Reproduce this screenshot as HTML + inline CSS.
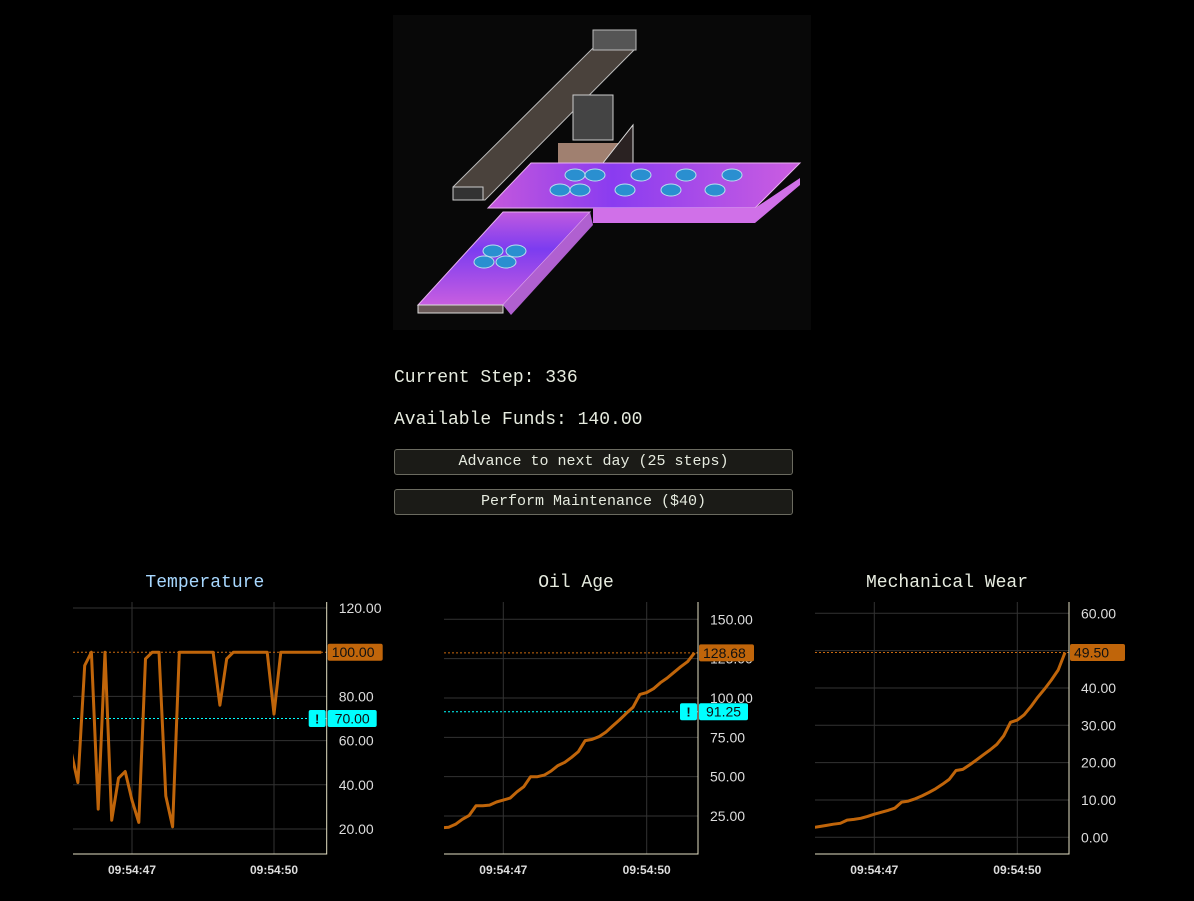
<!DOCTYPE html>
<html><head><meta charset="utf-8">
<style>
html,body{margin:0;padding:0;background:#000;width:1194px;height:901px;overflow:hidden;position:relative;font-family:"Liberation Mono",monospace;color:#e6ebdf}
.txt{position:absolute;left:394px;font-size:18px;white-space:nowrap}
.btn{position:absolute;left:394px;width:399px;height:26px;box-sizing:border-box;background:#1b1b17;border:1px solid #6b6b60;border-radius:3px;color:#e6ebdf;font-family:"Liberation Mono",monospace;font-size:15px;line-height:24px;text-align:center;padding:0}
svg{position:absolute;left:0;top:0}
</style></head><body>
<svg width="1194" height="901" viewBox="0 0 1194 901">
<defs>
<linearGradient id="belt" x1="0" y1="0" x2="1" y2="0"><stop offset="0" stop-color="#c458dc"/><stop offset="0.4" stop-color="#8a3cf0"/><stop offset="1" stop-color="#cc5ee0"/></linearGradient>
<linearGradient id="belt2" x1="0" y1="0" x2="0" y2="1"><stop offset="0" stop-color="#c05ae0"/><stop offset="0.4" stop-color="#7c3cf0"/><stop offset="1" stop-color="#c85ee0"/></linearGradient>
</defs>
<rect x="393" y="15" width="418" height="315" fill="#080808"/>
<g transform="translate(393,15)">
<polygon points="60,172 200,33 243,15 243,33 92,185 60,185" fill="#4a423c" stroke="#bbb" stroke-width="1"/>
<rect x="60" y="172" width="30" height="13" fill="#333" stroke="#ccc"/>
<rect x="200" y="15" width="43" height="20" fill="#555" stroke="#bbb"/>
<rect x="180" y="80" width="40" height="45" fill="#444" stroke="#ccc"/>
<rect x="165" y="128" width="60" height="20" fill="#a08070"/>
<polygon points="210,148 240,110 240,160 210,195" fill="#2a2222" stroke="#ddd"/>
<polygon points="138,148 407,148 362,193 95,193" fill="url(#belt)" stroke="#e8b0f0"/>
<polygon points="407,163 407,170 362,208 200,208 200,193 362,193" fill="#d070e8"/>
<polygon points="110,197 197,197 110,290 25,290" fill="url(#belt2)" stroke="#e8b0f0"/>
<polygon points="197,197 200,210 118,300 110,290" fill="#b060d0"/>
<rect x="25" y="290" width="85" height="8" fill="#6a5a58" stroke="#ddd"/>
<g fill="#2a8fd0" stroke="#bde" stroke-width="1">
<ellipse cx="182" cy="160" rx="10" ry="6"/><ellipse cx="202" cy="160" rx="10" ry="6"/><ellipse cx="167" cy="175" rx="10" ry="6"/><ellipse cx="187" cy="175" rx="10" ry="6"/>
<ellipse cx="248" cy="160" rx="10" ry="6"/><ellipse cx="293" cy="160" rx="10" ry="6"/><ellipse cx="339" cy="160" rx="10" ry="6"/>
<ellipse cx="232" cy="175" rx="10" ry="6"/><ellipse cx="278" cy="175" rx="10" ry="6"/><ellipse cx="322" cy="175" rx="10" ry="6"/>
<ellipse cx="100" cy="236" rx="10" ry="6"/><ellipse cx="123" cy="236" rx="10" ry="6"/><ellipse cx="91" cy="247" rx="10" ry="6"/><ellipse cx="113" cy="247" rx="10" ry="6"/>
</g>
</g>
</svg>
<div class="txt" style="top:368px">Current Step: 336</div>
<div class="txt" style="top:410px">Available Funds: 140.00</div>
<button class="btn" style="top:449px">Advance to next day (25 steps)</button>
<button class="btn" style="top:489px">Perform Maintenance ($40)</button>
<svg id="charts" width="1194" height="901" viewBox="0 0 1194 901"></svg>
<script>
const xTickIndex=[9,30];
const xTickLabels=["09:54:47","09:54:50"];
const tempValues=[55,41,94,100,29,100,24,43,46,33,23,97,100,100,35,21,100,100,100,100,100,100,76,97,100,100,100,100,100,100,72,100,100,100,100,100,100,100];
const tempTicks=[20,40,60,80,120];
const oilValues=[17.5,17.8,19.7,22.9,25.4,31.5,31.5,31.9,33.9,35.1,36.4,40.4,43.6,50,50,51,53.6,57,59.1,62.3,65.9,72.9,73.7,75.4,78.2,82.2,86,90.2,94.1,102.3,103.4,105.9,109.7,112.7,116.3,119.9,123.1,128.68];
const oilTicks=[25,50,75,100,125,150];
const wearValues=[2.6,2.9,3.2,3.5,3.75,4.6,4.8,5.1,5.6,6.2,6.7,7.2,7.8,9.4,9.7,10.3,11.1,12,13,14.2,15.5,17.9,18.2,19.4,20.7,22.1,23.4,24.9,27.2,30.8,31.4,32.8,35,37.5,39.7,42.1,44.8,49.5];
const wearTicks=[0,10,20,30,40,50,60];
const titles=["Temperature","Oil Age","Mechanical Wear"];
const tempThreshold=70, oilThreshold=91.25;

const NS="http://www.w3.org/2000/svg";
const svg=document.getElementById('charts');
function mk(tag,attrs,parent){const e=document.createElementNS(NS,tag);for(const k in attrs)e.setAttribute(k,attrs[k]);(parent||svg).appendChild(e);return e;}
const charts=[
 {name:'temperature',vals:tempValues,ticks:tempTicks,L:73,A:326.7,g0:132,g1:274,v0:120,y0:608,v1:20,y1:829,thr:tempThreshold,title:titles[0],tc:'#a8d8ff'},
 {name:'oil-age',vals:oilValues,ticks:oilTicks,L:444,A:698,g0:503.3,g1:646.7,v0:150,y0:619.3,v1:25,y1:816,thr:oilThreshold,title:titles[1],tc:'#e6ebdf'},
 {name:'mechanical-wear',vals:wearValues,ticks:wearTicks,L:815,A:1069,g0:874.3,g1:1017.3,v0:60,y0:613.3,v1:0,y1:837.3,thr:null,title:titles[2],tc:'#e6ebdf'}
];
const TOP=602,BOT=854;
charts.forEach((c,ci)=>{
 const xs=i=>c.g0+(i-xTickIndex[0])*(c.g1-c.g0)/(xTickIndex[1]-xTickIndex[0]);
 const ys=v=>c.y0+(v-c.v0)*(c.y1-c.y0)/(c.v1-c.v0);
 const g=mk('g',{});
 
 
 const t=mk('text',{x:(c.L+c.A)/2+5,y:587,'text-anchor':'middle',fill:c.tc,'font-size':18,'font-family':'Liberation Mono, monospace'},g);
 t.textContent=c.title;
 
 
 c.ticks.forEach(v=>{
  const gl=mk('line',{x1:c.L,x2:c.A,y1:ys(v),y2:ys(v),stroke:'#333','stroke-width':1},g);
  
  
  const tl=mk('text',{x:c.A+12,y:ys(v)+5,fill:'#ddd','font-size':14,'font-family':'Liberation Sans, sans-serif'},g);
  tl.textContent=v.toFixed(2);
  
  
 });
 xTickIndex.forEach((ix,k)=>{
  const gl=mk('line',{x1:xs(ix),x2:xs(ix),y1:TOP,y2:BOT,stroke:'#333','stroke-width':1},g);
  
  
  const tl=mk('text',{x:xs(ix),y:874,'text-anchor':'middle',fill:'#ddd','font-size':12,'font-weight':'bold','font-family':'Liberation Sans, sans-serif'},g);
  tl.textContent=xTickLabels[k];
  
  
 });
 const cp=mk('clipPath',{id:'cp'+ci},g);
 mk('rect',{x:c.L,y:TOP,width:c.A-c.L,height:BOT-TOP},cp);
 const last=c.vals[c.vals.length-1];
 const dl=mk('line',{x1:c.L,x2:c.A,y1:ys(last),y2:ys(last),stroke:'#c8680e','stroke-width':1,'stroke-dasharray':'2,2'},g);
 
 
 if(c.thr!==null){
  const th=mk('line',{x1:c.L,x2:c.A,y1:ys(c.thr),y2:ys(c.thr),stroke:'#00ffff','stroke-width':1,'stroke-dasharray':'2,2'},g);
  
  
 }
 const p=mk('path',{d:c.vals.map((v,i)=>(i?'L':'M')+xs(i).toFixed(1)+','+ys(v).toFixed(1)).join(''),fill:'none',stroke:'#c0650a','stroke-width':3,'stroke-linejoin':'round','clip-path':'url(#cp'+ci+')'},g);
 
 
 const ax=mk('path',{d:`M${c.L},${BOT}H${c.A}V${TOP}`,fill:'none',stroke:'#e4e0c4','stroke-width':1},g);
 
 
 const bg=mk('g',{},g);
 
 
 mk('rect',{x:c.A+1,y:ys(last)-8.5,width:55,height:17,rx:2,fill:'#c0650a'},bg);
 const bt=mk('text',{x:c.A+5,y:ys(last)+5,fill:'#111','font-size':14,'font-family':'Liberation Sans, sans-serif'},bg);
 bt.textContent=last.toFixed(2);
 if(c.thr!==null){
  const tb=mk('g',{},g);
  
  
  mk('rect',{x:c.A-18,y:ys(c.thr)-8.5,width:17,height:17,rx:2,fill:'#00ffff'},tb);
  mk('rect',{x:c.A+1,y:ys(c.thr)-8.5,width:49,height:17,rx:2,fill:'#00ffff'},tb);
  const ex=mk('text',{x:c.A-9.5,y:ys(c.thr)+5,'text-anchor':'middle',fill:'#111','font-size':13,'font-weight':'bold','font-family':'Liberation Sans, sans-serif'},tb);
  ex.textContent='!';
  const tt=mk('text',{x:c.A+8,y:ys(c.thr)+5,fill:'#111','font-size':14,'font-family':'Liberation Sans, sans-serif'},tb);
  tt.textContent=c.thr.toFixed(2);
 }
});
</script>
</body></html>
